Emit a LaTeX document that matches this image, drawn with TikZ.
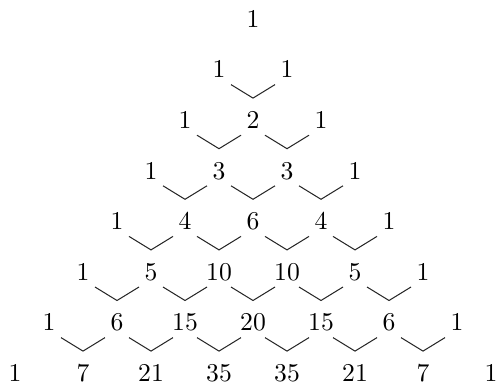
\documentclass[tikz,border=0pt]{standalone}
\usetikzlibrary{calc}
\begin{document}
\begin{tikzpicture}[x=0.39pt,y=-0.39pt,
  num/.style={inner sep=0pt,font=\fontsize{10pt}{12pt}\selectfont},
  vee/.style={line width=0.4pt,draw=black!85}]
\useasboundingbox (0,0) rectangle (498,383);
\foreach \r/\vals in {0/{1},1/{1,1},2/{1,2,1},3/{1,3,3,1},4/{1,4,6,4,1},5/{1,5,10,10,5,1},6/{1,6,15,20,15,6,1},7/{1,7,21,35,35,21,7,1}}{
  \foreach \v [count=\k from 0] in \vals {
    \node[num] (n\r-\k) at ({253+34*(2*\k-\r)},{19+50.6*\r}) {$\v$};
  }
}
\foreach \r in {1,...,6}{
  \pgfmathtruncatemacro\last{\r-1}
  \foreach \k in {0,...,\last}{
    \pgfmathtruncatemacro\kk{\k+1}
    \draw[vee] ($(n\r-\k)+(12,15)$) -- ($(n\r-\k)!0.5!(n\r-\kk)+(0,28.5)$) -- ($(n\r-\kk)+(-12,15)$);
  }
}
\end{tikzpicture}
\end{document}
